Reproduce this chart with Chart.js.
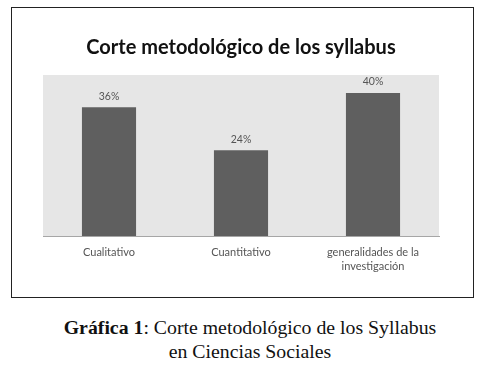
<!DOCTYPE html>
<html>
<head>
<meta charset="utf-8">
<script src="https://cdn.jsdelivr.net/npm/chart.js@4"></script>
<style>
  body { margin: 0; background: #fff; width: 486px; height: 365px; position: relative; overflow: hidden; }
  #frame { position: absolute; left: 11px; top: 7px; width: 461px; height: 289px; border: 1px solid #222; }
  #chart { position: absolute; left: 0; top: 0; }
  #caption { position: absolute; left: 0; top: 315px; width: 500px; text-align: center;
    font-family: "Liberation Serif", serif; font-size: 19.8px; line-height: 24px; color: #111; }
</style>
</head>
<body>
<div id="frame"></div>
<canvas id="chart" width="486" height="300"></canvas>
<div id="caption"><b>Gráfica 1</b>: Corte metodológico de los Syllabus<br>en Ciencias Sociales</div>
<script>
var categories = ['Cualitativo', 'Cuantitativo', ['generalidades de la', 'investigación']];
var values = [36, 24, 40];

// gray background behind the plot area, like the Excel one
var plotBackground = {
    id: 'plotBackground',
    beforeDraw: function (chart) {
        var ctx = chart.ctx, a = chart.chartArea;
        ctx.save();
        ctx.fillStyle = '#e6e6e6';
        ctx.fillRect(a.left, a.top, a.right - a.left, a.bottom - a.top);
        ctx.restore();
    }
};

// percent labels above each bar
var valueLabels = {
    id: 'valueLabels',
    afterDatasetsDraw: function (chart) {
        var ctx = chart.ctx;
        var meta = chart.getDatasetMeta(0);
        ctx.save();
        ctx.font = '10.5px Lato';
        ctx.fillStyle = '#555';
        ctx.textAlign = 'center';
        ctx.textBaseline = 'middle';
        meta.data.forEach(function (bar, i) {
            ctx.fillText(values[i] + '%', bar.x, bar.y - 11);
        });
        ctx.restore();
    }
};

var ctx = document.getElementById('chart').getContext('2d');
var myChart = new Chart(ctx, {
    type: 'bar',
    data: {
        labels: categories,
        datasets: [{
            data: values,
            backgroundColor: '#5f5f5f',
            borderWidth: 0,
            barPercentage: 0.41,
            categoryPercentage: 1
        }]
    },
    options: {
        responsive: false,
        animation: false,
        layout: { padding: { left: 43, right: 47, top: 0, bottom: 24 } },
        plugins: {
            legend: { display: false },
            tooltip: { enabled: false },
            title: {
                display: true,
                text: 'Corte metodológico de los syllabus',
                color: '#111',
                font: { family: 'Lato', size: 20, weight: 'bold', lineHeight: 1.2 },
                padding: { top: 36, bottom: 15 }
            }
        },
        scales: {
            y: { display: false, min: 0, max: 45 },
            x: {
                grid: { display: false, drawTicks: false },
                border: { display: true, color: '#a6a6a6', width: 1 },
                ticks: { color: '#555', font: { family: 'Lato', size: 11, lineHeight: 1.3 }, padding: 9, maxRotation: 0 },
                afterFit: function (scale) { scale.height = 40; }
            }
        }
    },
    plugins: [plotBackground, valueLabels]
});
</script>
</body>
</html>
